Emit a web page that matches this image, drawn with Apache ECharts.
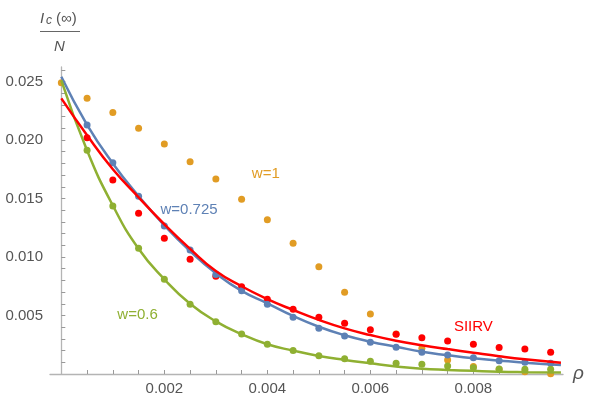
<!DOCTYPE html>
<html>
<head>
<meta charset="utf-8">
<script src="https://cdn.jsdelivr.net/npm/echarts@6/dist/echarts.min.js"></script>
<style>
  html, body { margin: 0; padding: 0; background: #fff; }
  #main { width: 606px; height: 399px; }
</style>
</head>
<body>
<div id="main"></div>
<script>
// simulated points, every 0.0005 in rho
const dotX = [0, 0.0005, 0.001, 0.0015, 0.002, 0.0025, 0.003, 0.0035, 0.004, 0.0045, 0.005,
  0.0055, 0.006, 0.0065, 0.007, 0.0075, 0.008, 0.0085, 0.009, 0.0095];
const dotsW1 = [0.0249, 0.02356, 0.02236, 0.0210, 0.01966, 0.01815, 0.01667, 0.01493, 0.01319, 0.01117,
  0.00917, 0.00698, 0.00513, 0.00342, 0.0022, 0.0012, 0.00065, 0.0004, 0.0002, 0.00002];
const dotsSIIRV = [null, 0.0202, 0.01658, 0.01373, 0.0116, 0.0098, 0.00835, 0.00746, 0.00638, 0.00553,
  0.00485, 0.00433, 0.00378, 0.0034, 0.0031, 0.00282, 0.00255, 0.00226, 0.00214, 0.00186];
const dotsW0725 = [null, 0.02128, 0.01806, 0.0152, 0.01265, 0.0106, 0.0085, 0.00712, 0.00596, 0.00485,
  0.0039, 0.00325, 0.00271, 0.00228, 0.00185, 0.00162, 0.00139, 0.00114, 0.001, 0.00091];
const dotsW06 = [null, 0.01912, 0.01436, 0.01074, 0.00809, 0.00596, 0.00447, 0.00342, 0.00254, 0.002,
  0.00157, 0.00131, 0.00108, 0.00091, 0.00083, 0.00068, 0.00054, 0.00043, 0.0004, 0.0004];

// fitted curves
const curveX = [0, 0.0005, 0.001, 0.0015, 0.002, 0.0025, 0.003, 0.0035, 0.004, 0.0045, 0.005,
  0.0055, 0.006, 0.0065, 0.007, 0.0075, 0.008, 0.0085, 0.009, 0.0097];
const curveSIIRV = [0.02356, 0.0204, 0.0175, 0.0151, 0.0128, 0.0107, 0.0088, 0.0075, 0.0064, 0.00547,
  0.00462, 0.0039, 0.00333, 0.00284, 0.00246, 0.00213, 0.00182, 0.00152, 0.00126, 0.00097];
const curveW0725 = [0.0254, 0.0213, 0.0180, 0.0152, 0.0127, 0.0105, 0.0086, 0.0071, 0.00604, 0.00496,
  0.00404, 0.00331, 0.00276, 0.00233, 0.0019, 0.0016, 0.00134, 0.00115, 0.00097, 0.00077];
const curveW06 = [0.0251, 0.0191, 0.0144, 0.0107, 0.0081, 0.0060, 0.0045, 0.0034, 0.00254, 0.0020,
  0.00154, 0.0012, 0.00091, 0.00064, 0.00045, 0.00035, 0.00027, 0.0002, 0.00016, 0.00012];

// ticks
const xTicks = [0.0005, 0.001, 0.0015, 0.002, 0.0025, 0.003, 0.0035, 0.004, 0.0045, 0.005,
  0.0055, 0.006, 0.0065, 0.007, 0.0075, 0.008, 0.0085, 0.009, 0.0095];
const xLabels = [0.002, 0.004, 0.006, 0.008];
const yTicks = [0.001, 0.002, 0.003, 0.004, 0.005, 0.006, 0.007, 0.008, 0.009, 0.010, 0.011, 0.012, 0.013,
  0.014, 0.015, 0.016, 0.017, 0.018, 0.019, 0.020, 0.021, 0.022, 0.023, 0.024, 0.025, 0.026];
const yLabels = [0.005, 0.010, 0.015, 0.020, 0.025];

// curve labels [x, y, text]
const notes = [
  [0.00397, 0.01709, 'w=1', '#E19C24'],
  [0.00248, 0.01402, 'w=0.725', '#5E81B5'],
  [0.00148, 0.00504, 'w=0.6', '#8FB032'],
  [0.0080, 0.00399, 'SIIRV', '#FF0000']
];

const orange = '#E19C24', blue = '#5E81B5', green = '#8FB032', red = '#FF0000';
const font = 'Liberation Sans, Arial, sans-serif';

function pairs(xs, ys) {
  const out = [];
  xs.forEach((x, i) => { if (ys[i] != null) out.push([x, ys[i]]); });
  return out;
}

function dots(name, xs, ys, color) {
  return {
    name: name, type: 'scatter', data: pairs(xs, ys), symbolSize: 7,
    itemStyle: { color: color, opacity: 1 }, z: 3
  };
}

function curve(name, xs, ys, color, z) {
  return {
    name: name, type: 'line', data: pairs(xs, ys), smooth: true, showSymbol: false,
    lineStyle: { color: color, width: 2.5 }, z: z
  };
}

const chart = echarts.init(document.getElementById('main'));

const option = {
  animation: false,
  grid: { left: 50, right: 43, top: 67, bottom: 25 },
  xAxis: {
    type: 'value', min: -0.00022, max: 0.00974,
    name: 'ρ', nameLocation: 'end', nameGap: 10,
    nameTextStyle: { fontFamily: font, fontSize: 19, fontStyle: 'italic', color: '#555', verticalAlign: 'middle' },
    splitLine: { show: false },
    axisLine: { onZero: true, lineStyle: { color: '#b4b4b4', width: 1.3 } },
    axisTick: { inside: true, length: 4, customValues: xTicks, lineStyle: { color: '#999' } },
    axisLabel: {
      customValues: xLabels, margin: 7, color: '#555', fontFamily: font, fontSize: 15,
      formatter: v => v.toFixed(3)
    }
  },
  yAxis: {
    type: 'value', min: 0, max: 0.02624,
    splitLine: { show: false },
    axisLine: { show: true, onZero: true, lineStyle: { color: '#b4b4b4', width: 1.3 } },
    axisTick: { show: true, inside: true, length: 4, customValues: yTicks, lineStyle: { color: '#999' } },
    axisLabel: {
      customValues: yLabels, margin: 7, color: '#555', fontFamily: font, fontSize: 15,
      formatter: v => v.toFixed(3)
    }
  },
  graphic: [
    { type: 'text', left: 40, top: 11, style: { text: 'I', font: 'italic 15px ' + font, fill: '#555' } },
    { type: 'text', left: 46, top: 15, style: { text: 'c', font: 'italic 12px ' + font, fill: '#555' } },
    { type: 'text', left: 56, top: 11, style: { text: '(∞)', font: '15px ' + font, fill: '#555' } },
    { type: 'line', shape: { x1: 40, y1: 31.5, x2: 80, y2: 31.5 }, style: { stroke: '#666', lineWidth: 1.2 } },
    { type: 'text', left: 54, top: 39, style: { text: 'N', font: 'italic 15px ' + font, fill: '#555' } }
  ],
  series: [
    dots('w=1 pts', dotX, dotsW1, orange),
    dots('SIIRV pts', dotX, dotsSIIRV, red),
    dots('w=0.725 pts', dotX, dotsW0725, blue),
    dots('w=0.6 pts', dotX, dotsW06, green),
    curve('w=0.725', curveX, curveW0725, blue, 4),
    curve('SIIRV', curveX, curveSIIRV, red, 5),
    curve('w=0.6', curveX, curveW06, green, 4),
    {
      name: 'notes', type: 'scatter', symbolSize: 0, silent: true,
      itemStyle: { opacity: 1 },
      data: notes.map(n => ({
        value: [n[0], n[1]],
        label: {
          show: true, position: 'inside', formatter: n[2], color: n[3],
          fontFamily: font, fontSize: 15
        }
      }))
    }
  ]
};

chart.setOption(option);
</script>
</body>
</html>
